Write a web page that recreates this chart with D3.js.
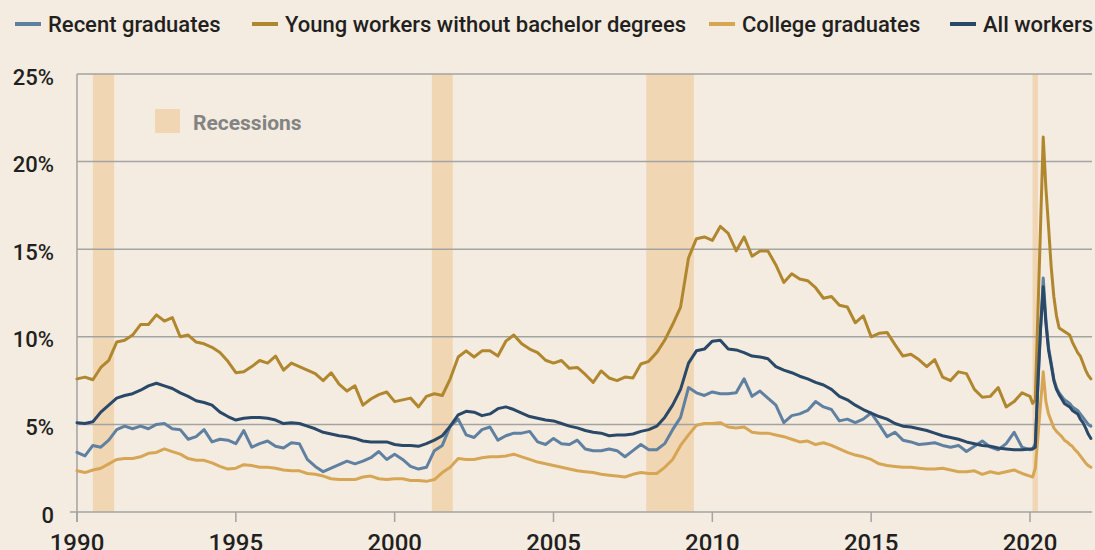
<!DOCTYPE html>
<html>
<head>
<meta charset="utf-8">
<script src="https://cdn.jsdelivr.net/npm/d3@7"></script>
<style>
  html, body { margin: 0; padding: 0; background: #f4ece0; }
  svg { display: block; }
  text { font-family: Roboto, "Liberation Sans", sans-serif; }
</style>
</head>
<body>
<div id="chart"></div>
<script>
// ---------------- DATA ----------------
// Quarterly values 1990.00 – 2019.75 (4 per year), then monthly values Jan 2020 – Dec 2021.
const seriesNames = ["Recent graduates", "Young workers without bachelor degrees", "College graduates", "All workers"];

const recentGraduates = [
  3.4, 3.2, 3.8, 3.7,   4.1, 4.7, 4.9, 4.75,  4.9, 4.75, 5.0, 5.05,  4.75, 4.7, 4.15, 4.3,
  4.7, 4.0, 4.15, 4.1,  3.9, 4.65, 3.7, 3.9,  4.05, 3.75, 3.65, 3.95, 3.9, 3.0, 2.6, 2.3,
  2.5, 2.7, 2.9, 2.75,  2.9, 3.1, 3.45, 3.0,  3.3, 3.0, 2.6, 2.45,   2.55, 3.5, 3.8, 4.9,
  5.3, 4.4, 4.25, 4.7,  4.85, 4.1, 4.35, 4.5, 4.5, 4.6, 4.0, 3.85,  4.2, 3.9, 3.85, 4.1,
  3.6, 3.5, 3.5, 3.6,   3.5, 3.15, 3.5, 3.85, 3.55, 3.55, 3.9, 4.7, 5.4, 7.1, 6.8, 6.65,
  6.85, 6.75, 6.75, 6.8, 7.6, 6.6, 6.9, 6.5, 6.1, 5.1, 5.5, 5.6,  5.8, 6.3, 6.0, 5.85,
  5.2, 5.3, 5.1, 5.3,   5.65, 5.0, 4.3, 4.55, 4.1, 4.0, 3.85, 3.9,  3.95, 3.8, 3.7, 3.8,
  3.45, 3.75, 4.05, 3.7, 3.55, 3.9, 4.55, 3.7,
  // monthly 2020
  3.55, 3.6, 3.9, 7.2, 10.5, 13.35, 11.0, 9.4, 8.5, 7.6, 7.1, 6.8,
  // monthly 2021
  6.6, 6.4, 6.3, 6.2, 6.0, 5.9, 5.8, 5.6, 5.4, 5.2, 5.0, 4.9
];

const youngWorkers = [
  7.6, 7.7, 7.55, 8.25, 8.65, 9.7, 9.8, 10.1, 10.7, 10.7, 11.25, 10.9, 11.1, 10.0, 10.1, 9.7,
  9.6, 9.4, 9.1, 8.6,   7.95, 8.0, 8.3, 8.65, 8.5, 8.9, 8.1, 8.5,    8.3, 8.1, 7.9, 7.5,
  7.95, 7.3, 6.9, 7.2,  6.1, 6.45, 6.7, 6.85, 6.3, 6.4, 6.5, 6.0,    6.6, 6.75, 6.65, 7.6,
  8.85, 9.2, 8.85, 9.2, 9.2, 8.9, 9.75, 10.1, 9.6, 9.3, 9.1, 8.66,   8.5, 8.65, 8.2, 8.25,
  7.85, 7.4, 8.05, 7.65, 7.5, 7.7, 7.65, 8.45, 8.6, 9.1, 9.8, 10.7,  11.7, 14.5, 15.6, 15.7,
  15.5, 16.3, 15.9, 14.9, 15.7, 14.6, 14.9, 14.9, 14.1, 13.1, 13.6, 13.3, 13.2, 12.8, 12.2, 12.3,
  11.8, 11.7, 10.8, 11.2, 10.0, 10.2, 10.25, 9.55, 8.9, 9.0, 8.7, 8.3, 8.7, 7.7, 7.5, 8.0,
  7.9, 7.0, 6.55, 6.6,  7.1, 6.0, 6.3, 6.8,
  6.6, 6.2, 6.4, 11.4, 16.4, 21.4, 18.5, 16.3, 14.0, 12.3, 11.2, 10.5,
  10.4, 10.3, 10.2, 10.1, 9.7, 9.4, 9.1, 8.9, 8.5, 8.1, 7.8, 7.6
];

const collegeGraduates = [
  2.35, 2.25, 2.4, 2.5, 2.75, 3.0, 3.05, 3.05, 3.15, 3.35, 3.4, 3.6, 3.45, 3.3, 3.05, 2.95,
  2.95, 2.8, 2.6, 2.45, 2.5, 2.7, 2.65, 2.55, 2.55, 2.5, 2.4, 2.35,   2.35, 2.2, 2.15, 2.05,
  1.9, 1.85, 1.85, 1.85, 2.0, 2.05, 1.9, 1.85, 1.9, 1.9, 1.8, 1.8,   1.75, 1.85, 2.25, 2.55,
  3.05, 3.0, 3.0, 3.1,  3.15, 3.15, 3.2, 3.3, 3.15, 3.0, 2.85, 2.75, 2.65, 2.55, 2.45, 2.35,
  2.3, 2.25, 2.15, 2.1, 2.05, 2.0, 2.15, 2.25, 2.2, 2.2, 2.55, 3.0,  3.8, 4.4, 4.95, 5.05,
  5.05, 5.1, 4.85, 4.8, 4.85, 4.55, 4.5, 4.5, 4.4, 4.3, 4.15, 4.0,   4.05, 3.85, 3.95, 3.8,
  3.6, 3.4, 3.25, 3.15, 3.0, 2.75, 2.65, 2.6, 2.55, 2.55, 2.5, 2.45, 2.45, 2.5, 2.4, 2.3,
  2.3, 2.35, 2.15, 2.3, 2.2, 2.3, 2.4, 2.2,
  2.05, 2.0, 2.5, 4.3, 6.2, 8.0, 6.3, 5.6, 5.2, 4.8, 4.6, 4.45,
  4.3, 4.1, 4.0, 3.85, 3.75, 3.55, 3.4, 3.2, 3.0, 2.8, 2.65, 2.55
];

const allWorkers = [
  5.1, 5.05, 5.15, 5.7, 6.1, 6.5, 6.65, 6.75, 6.95, 7.2, 7.35, 7.2,  7.05, 6.8, 6.6, 6.35,
  6.25, 6.1, 5.7, 5.45, 5.25, 5.35, 5.4, 5.4, 5.35, 5.25, 5.05, 5.1, 5.05, 4.9, 4.75, 4.55,
  4.45, 4.35, 4.3, 4.2, 4.05, 4.0, 4.0, 4.0, 3.85, 3.8, 3.8, 3.75,   3.9, 4.1, 4.35, 4.9,
  5.55, 5.75, 5.7, 5.5, 5.6, 5.9, 6.0, 5.85, 5.65, 5.45, 5.35, 5.25, 5.2, 5.05, 4.9, 4.8,
  4.65, 4.55, 4.5, 4.35, 4.4, 4.4, 4.45, 4.6, 4.7, 4.9, 5.4, 6.1,   7.0, 8.5, 9.2, 9.3,
  9.75, 9.8, 9.3, 9.25, 9.1, 8.9, 8.85, 8.75, 8.3, 8.1, 7.95, 7.75,  7.6, 7.4, 7.25, 7.0,
  6.6, 6.4, 6.1, 5.85, 5.65, 5.45, 5.3, 5.05, 4.9, 4.85, 4.75, 4.65, 4.5, 4.35, 4.25, 4.15,
  4.0, 3.9, 3.8, 3.75, 3.65, 3.6, 3.55, 3.55,
  3.6, 3.6, 3.7, 7.5, 10.5, 12.85, 10.8, 9.25, 8.4, 7.5, 7.0, 6.7,
  6.45, 6.2, 6.1, 6.0, 5.8, 5.7, 5.6, 5.3, 5.1, 4.8, 4.45, 4.2
];

const recessionStarts = [1990.5, 2001.17, 2007.92, 2020.08];
const recessionEnds   = [1991.17, 2001.83, 2009.42, 2020.25];
const yTicks = [0, 5, 10, 15, 20, 25];
const yTickLabels = ["0", "5%", "10%", "15%", "20%", "25%"];
const xTicks = [1990, 1995, 2000, 2005, 2010, 2015, 2020];

// dates: quarterly 1990–2019, then monthly 2020–2021
const dates = d3.range(120).map(i => 1990 + i / 4).concat(d3.range(24).map(i => 2020 + i / 12));

// ---------------- LAYOUT ----------------
const W = 1095, H = 550;
const colors = ["#5f80a0", "#b0872f", "#d6a654", "#2a4868"];
const seriesValues = [recentGraduates, youngWorkers, collegeGraduates, allWorkers];

const svg = d3.select("#chart").append("svg").attr("width", W).attr("height", H);
svg.append("rect").attr("width", W).attr("height", H).attr("fill", "#f4ece0");

const x = d3.scaleLinear().domain([1990, 2020]).range([77, 1030]);
const y = d3.scaleLinear().domain([0, 25]).range([512, 74]);
const plotRight = 1092;

// recession bands
svg.append("g").selectAll("rect").data(recessionStarts).join("rect")
  .attr("x", (d) => x(d))
  .attr("width", (d, i) => x(recessionEnds[i]) - x(d))
  .attr("y", y(25))
  .attr("height", y(0) - y(25))
  .attr("fill", "#f1d6b3");

// gridlines
svg.append("g").selectAll("line").data(yTicks).join("line")
  .attr("x1", d => d === 0 ? 70 : x(1990))
  .attr("x2", plotRight)
  .attr("y1", d => y(d)).attr("y2", d => y(d))
  .attr("stroke", "#a3a3a3").attr("stroke-width", 1.5);

// y axis vertical line
svg.append("line").attr("x1", x(1990)).attr("x2", x(1990))
  .attr("y1", y(25)).attr("y2", y(0) + 10)
  .attr("stroke", "#a3a3a3").attr("stroke-width", 1.5);

// x ticks
svg.append("g").selectAll("line").data(xTicks).join("line")
  .attr("x1", d => x(d)).attr("x2", d => x(d))
  .attr("y1", y(0)).attr("y2", y(0) + 10)
  .attr("stroke", "#a3a3a3").attr("stroke-width", 1.5);

// y labels
svg.append("g").selectAll("text").data(yTicks).join("text")
  .attr("x", 54).attr("y", d => y(d) + 10.5)
  .attr("text-anchor", "end")
  .attr("font-size", 22).attr("font-weight", 500).attr("fill", "#231f20")
  .text((d, i) => yTickLabels[i]);

// x labels
svg.append("g").selectAll("text").data(xTicks).join("text")
  .attr("x", d => x(d)).attr("y", 551)
  .attr("text-anchor", "middle")
  .attr("font-size", 24).attr("font-weight", 500).attr("fill", "#231f20")
  .text(d => d);

// lines
const line = d3.line().x((d, i) => x(dates[i])).y(d => y(d)).curve(d3.curveLinear);
svg.append("g").selectAll("path").data(seriesValues).join("path")
  .attr("d", d => line(d))
  .attr("fill", "none")
  .attr("stroke", (d, i) => colors[i])
  .attr("stroke-width", 3)
  .attr("stroke-linejoin", "round")
  .attr("stroke-linecap", "round");

// legend
const legendX = [15, 252, 709, 950];
const lg = svg.append("g").selectAll("g").data(seriesNames).join("g")
  .attr("transform", (d, i) => `translate(${legendX[i]},0)`);
lg.append("line").attr("x1", 0).attr("x2", 26).attr("y1", 24).attr("y2", 24)
  .attr("stroke", (d, i) => colors[i]).attr("stroke-width", 4);
lg.append("text").attr("x", 33).attr("y", 32)
  .attr("font-size", 22).attr("font-weight", 500).attr("fill", "#231f20")
  .text(d => d);

// recessions legend
svg.append("rect").attr("x", 155).attr("y", 109).attr("width", 25).attr("height", 24).attr("fill", "#f1d6b3");
svg.append("text").attr("x", 193).attr("y", 130)
  .attr("font-size", 21).attr("font-weight", 700).attr("fill", "#838383")
  .text("Recessions");
</script>
</body>
</html>
